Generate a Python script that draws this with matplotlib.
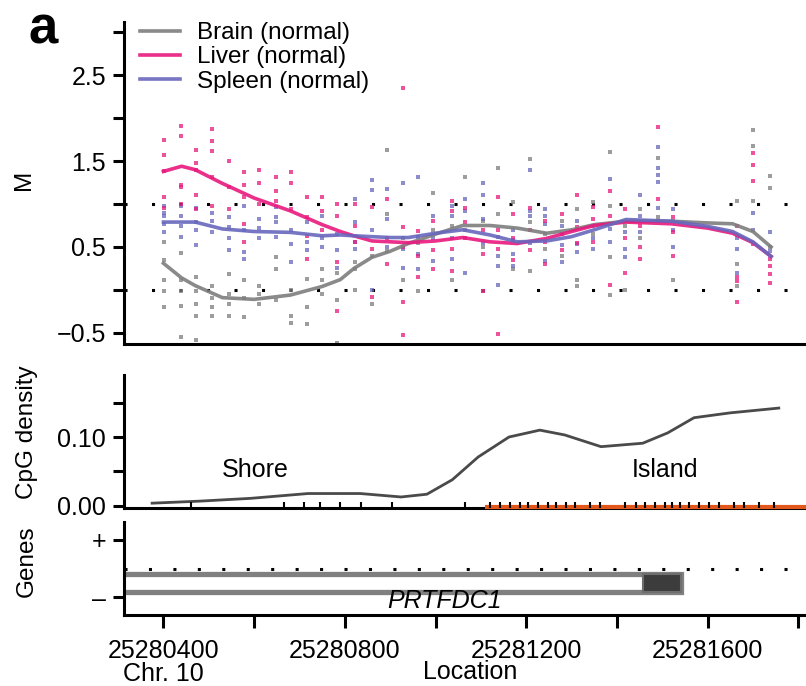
import matplotlib
matplotlib.use("Agg")
import matplotlib.pyplot as plt
from matplotlib.patches import Rectangle

plt.rcParams['font.family'] = ['Liberation Sans', 'DejaVu Sans']

# ---- data -------------------------------------------------------------
probe_pos = [25280402, 25280439, 25280472, 25280507, 25280545, 25280578,
             25280611, 25280649, 25280682, 25280717, 25280750, 25280783,
             25280823, 25280860, 25280893, 25280928, 25280961, 25280994,
             25281036, 25281065, 25281105, 25281138, 25281171, 25281208,
             25281242, 25281279, 25281312, 25281347, 25281385, 25281418,
             25281451, 25281491, 25281524, 25281665, 25281700, 25281738]

liver_m = [[1.75, 1.57, 1.38, 1.08, 0.95], [1.91, 1.79, 1.22, 1.2, 1.0],
           [1.63, 1.48, 1.4, 0.94, 1.1], [1.87, 1.73, 1.62, 1.32, 0.98],
           [1.5, 0.94, 1.2], [1.37, 1.22, 1.08, 0.77, 0.56],
           [1.4, 1.24, 1.0], [1.31, 1.15, 1.04], [1.37, 1.25, 0.94],
           [1.08, 0.63, 0.36, 0.85], [1.08, 0.92, 0.7], [0.86, 0.32, -0.24, 1.0],
           [1.0, 0.56, 0.75], [0.96, 0.48, -0.08], [1.06, 0.3, 0.6],
           [0.73, -0.14, -0.53, 0.5, 2.35], [0.69, 0.4, 0.15], [0.46, 0.24, 0.8],
           [1.04, 0.92, 0.48, 0.22], [0.79, 0.6, 0.95], [0.42, -0.01, 0.7],
           [1.08, 0.48, -0.51, 0.7], [0.88, 0.6, 0.35], [0.46, 0.7, 0.95],
           [0.56, 0.8, 0.3], [0.88, 0.46, 0.65], [1.1, 0.73, 0.55],
           [0.96, 0.82, 0.56], [1.15, 0.86, 0.06], [0.94, 0.2, 0.6],
           [0.5, 0.36, 0.75], [1.9, 1.06, 0.8], [0.67, 0.4, 0.85],
           [0.75, 0.15, 0.1, -0.14], [1.6, 1.45, 1.27, 0.54], [0.36, 0.28, 0.18, 0.08]]

spleen_m = [[0.98, 0.86, 0.77, 0.68, 0.9], [0.98, 0.86, 0.75, 0.62],
            [0.79, 0.52, 0.95, 0.7], [0.9, 0.67, 0.8], [0.73, 0.6, 0.46, 0.85],
            [0.98, 0.44, 0.36, 0.7], [0.82, 0.6, 0.72], [0.96, 0.85, 0.79, 0.62],
            [0.54, 0.32, 0.7], [0.79, 0.56, 0.46], [0.86, 0.6, 0.5],
            [0.46, 0.26, 0.65], [1.06, 0.79, 0.56, 0.48], [1.28, 1.16, 0.0, 0.7],
            [1.18, 0.82, 0.5], [1.24, 0.48, 0.26], [1.32, 0.42, 0.24, 0.62],
            [0.86, 0.34, 0.6], [0.98, 0.86, 0.36, 0.6], [1.06, 0.92, 0.2],
            [1.24, 1.1, 0.82, 0.55], [0.4, 0.28, 0.06, 0.62], [0.58, 0.42, 0.28, 0.7],
            [1.4, 0.92, 0.86, 0.55], [0.94, 0.86, 0.77, 0.34], [0.52, 0.32, 0.75],
            [0.54, 0.44, 0.8], [0.75, 0.48, 0.6], [1.29, 0.71, 0.56],
            [0.67, 0.48, 0.38], [1.11, 0.86, 0.67], [1.66, 1.42, 1.34, 1.26, 0.95],
            [0.94, 0.5, 0.7], [0.48, 0.2, 0.6], [0.9, 0.7], [0.67, 0.45]]

brain_m = [[0.56, 0.35, 0.11, -0.01, -0.2], [0.43, 0.11, -0.01, -0.19, -0.55],
           [-0.01, -0.16, -0.3, 0.15, -0.58], [-0.09, -0.2, -0.3, 0.05],
           [0.19, -0.16, -0.3, -0.05], [0.11, -0.32, -0.1], [-0.16, 0.05, -0.05],
           [0.38, 0.24, -0.12], [-0.3, -0.38, 0.0], [0.13, -0.2, -0.4],
           [0.24, 0.11, -0.05], [-0.12, 0.2, -0.62], [0.32, 0.24, 0.0],
           [-0.16, 0.4], [1.63, 0.88, 0.45], [0.11, 0.6], [-0.01, 0.55],
           [1.13, 0.7], [0.11, 0.75], [1.32, 0.7], [0.5, -0.01, 0.8],
           [1.42, 0.88], [1.02, 0.24], [1.52, 0.79, 0.22], [0.48, 0.65],
           [0.4, 0.8], [0.94, 0.12, 0.04], [1.02, 0.65], [1.61, 0.98, 0.38, -0.06],
           [0.0, 0.75], [0.94, 0.6], [1.54, 0.85], [0.11, 0.8],
           [1.04, 0.04, 0.3], [1.86, 1.68, 1.04], [1.33, 1.19, 0.5]]

# smoothed methylation curves
fit_pos = [25280400, 25280440, 25280470, 25280530, 25280600, 25280680,
           25280750, 25280790, 25280820, 25280860, 25280900, 25280940,
           25281000, 25281060, 25281120, 25281180, 25281245, 25281300,
           25281350, 25281420, 25281520, 25281600, 25281655, 25281700, 25281740]
liver_fit = [1.38, 1.44, 1.40, 1.24, 1.07, 0.92, 0.76, 0.68, 0.63, 0.57, 0.56,
             0.55, 0.57, 0.61, 0.56, 0.54, 0.60, 0.68, 0.75, 0.79, 0.77, 0.72,
             0.66, 0.55, 0.39]
spleen_fit = [0.79, 0.79, 0.79, 0.71, 0.68, 0.67, 0.63, 0.64, 0.63, 0.62, 0.61,
              0.61, 0.66, 0.70, 0.64, 0.56, 0.57, 0.62, 0.70, 0.82, 0.80, 0.74,
              0.68, 0.56, 0.39]
brain_fit = [0.31, 0.14, 0.05, -0.09, -0.11, -0.06, 0.04, 0.12, 0.25, 0.38, 0.45,
             0.54, 0.65, 0.75, 0.75, 0.72, 0.66, 0.70, 0.76, 0.80, 0.80, 0.78,
             0.77, 0.68, 0.50]

# CpG density
cpg_pos = [25280375, 25280481, 25280592, 25280719, 25280834, 25280924, 25280981,
           25281037, 25281094, 25281162, 25281230, 25281285, 25281365, 25281457,
           25281512, 25281570, 25281649, 25281757]
cpg_density = [0.004, 0.007, 0.011, 0.018, 0.018, 0.013, 0.017, 0.038, 0.071,
               0.100, 0.110, 0.103, 0.086, 0.091, 0.106, 0.128, 0.135, 0.142]
cpg_sites = [25280461, 25280666, 25280710, 25280745, 25280789, 25280835, 25280903,
             25281066, 25281120, 25281142, 25281164, 25281186, 25281204, 25281226,
             25281248, 25281266, 25281288, 25281307, 25281340, 25281362, 25281417,
             25281441, 25281461, 25281483, 25281505, 25281521, 25281540, 25281560,
             25281582, 25281604, 25281626, 25281659, 25281681, 25281714, 25281747]
island = (25281110, 25281900)

# gene
gene_name = "PRTFDC1"
gene_span = (25280250, 25281541)
exon_span = (25281457, 25281541)

xlim = (25280313, 25281817)
xticks_major = [25280400, 25280600, 25280800, 25281000, 25281200, 25281400,
                25281600, 25281800]
xtick_labels = ["25280400\nChr. 10", "", "25280800", "", "25281200", "",
                "25281600", ""]

c_brain = '#7d7d7d'
c_liver = '#e8197d'
c_spleen = '#6767bd'

# ---- figure -----------------------------------------------------------
W, H = 806, 686
fig = plt.figure(figsize=(W / 100, H / 100), dpi=100)


def box(top, bottom):
    return [124 / W, 1 - bottom / H, 682 / W, (bottom - top) / H]


ax1 = fig.add_axes(box(22, 344))
ax2 = fig.add_axes(box(375, 508))
ax3 = fig.add_axes(box(522, 615))

for ax in (ax1, ax2, ax3):
    ax.set_xlim(*xlim)
    ax.spines['top'].set_visible(False)
    ax.spines['right'].set_visible(False)
    for s in ('left', 'bottom'):
        ax.spines[s].set_linewidth(2.2)
    ax.tick_params(axis='y', direction='out', length=8, width=2.2, labelsize=18, pad=5)
    ax.tick_params(axis='x', direction='out', length=9.5, width=2.2, labelsize=18)

# methylation panel
for vals_list, col in ((brain_m, c_brain), (spleen_m, c_spleen), (liver_m, c_liver)):
    for pos, vals in zip(probe_pos, vals_list):
        ax1.scatter([pos] * len(vals), vals, s=11, marker='s', color=col,
                    alpha=0.75, linewidths=0, zorder=2)

ax1.plot(fit_pos, brain_fit, color=c_brain, lw=2.6, alpha=0.9, label='Brain (normal)', zorder=3)
ax1.plot(fit_pos, liver_fit, color=c_liver, lw=2.6, alpha=0.9, label='Liver (normal)', zorder=3)
ax1.plot(fit_pos, spleen_fit, color=c_spleen, lw=2.6, alpha=0.9, label='Spleen (normal)', zorder=3)
for yv in (0.0, 1.0):
    ax1.axhline(yv, color='black', lw=2.2, ls=(0, (1, 8)), zorder=1)

ax1.set_ylim(-0.63, 3.12)
ax1.set_yticks([-0.5, 0.0, 0.5, 1.0, 1.5, 2.0, 2.5, 3.0])
ax1.set_yticklabels(['\u22120.5', '', '0.5', '', '1.5', '', '2.5', ''])
ax1.tick_params(axis='x', bottom=False, labelbottom=False)
ax1.legend(loc='upper left', bbox_to_anchor=(0.023, 1.0), frameon=False,
           fontsize=17.5, handlelength=1.65, handletextpad=0.7, labelspacing=0.1,
           borderpad=0, borderaxespad=0)

# CpG density panel
ax2.plot(cpg_pos, cpg_density, color='#4a4a4a', lw=2.0, zorder=3)
ax2.plot(island, [-0.002, -0.002], color='#e2581c', lw=3.0, solid_capstyle='butt',
         clip_on=False, zorder=4)
ax2.plot(cpg_sites, [0.001] * len(cpg_sites), ls='none', marker='|', ms=4,
         mew=1.5, color='black', clip_on=False, zorder=5)
ax2.text(25280602, 0.052, 'Shore', fontsize=18, ha='center', va='center')
ax2.text(25281506, 0.052, 'Island', fontsize=18, ha='center', va='center')
ax2.set_ylim(-0.003, 0.19)
ax2.set_yticks([0.0, 0.05, 0.10, 0.15])
ax2.set_yticklabels(['0.00', '', '0.10', ''])
ax2.tick_params(axis='x', bottom=False, labelbottom=False)

# gene panel
ax3.axhline(0, color='black', lw=2.2, ls=(0, (1, 7)), zorder=1)
ax3.add_patch(Rectangle((gene_span[0], -0.81), gene_span[1] - gene_span[0], 0.61,
                        facecolor='white', edgecolor='#808080', lw=3.8, zorder=2))
ax3.add_patch(Rectangle((exon_span[0], -0.83), exon_span[1] - exon_span[0], 0.62,
                        facecolor='#3c3c3c', edgecolor='#6e6e6e', lw=1.5, zorder=3))
ax3.text(25281020, -1.15, gene_name, fontsize=18, style='italic',
         ha='center', va='center', zorder=4)
ax3.set_ylim(-1.63, 1.63)
ax3.set_yticks([-1, 1])
ax3.set_yticklabels(['\u2013', '+'], fontsize=18)
ax3.set_xticks(xticks_major)
ax3.set_xticklabels(xtick_labels, linespacing=0.95)
ax3.tick_params(axis='x', pad=8)

# labels
fig.text(24 / W, 1 - 180 / H, 'M', rotation=90, fontsize=17.5, ha='center', va='center')
fig.text(27 / W, 1 - 432 / H, 'CpG density', rotation=90, fontsize=17.5,
         ha='center', va='center')
fig.text(27 / W, 1 - 561 / H, 'Genes', rotation=90, fontsize=17.5, ha='center', va='center')
fig.text(470 / W, 1 - 672 / H, 'Location', fontsize=18, ha='center', va='center')
fig.text(43 / W, 1 - 43 / H, 'a', fontsize=38, fontweight='bold', ha='center',
         va='baseline')

fig.savefig('out.png', dpi=100)
